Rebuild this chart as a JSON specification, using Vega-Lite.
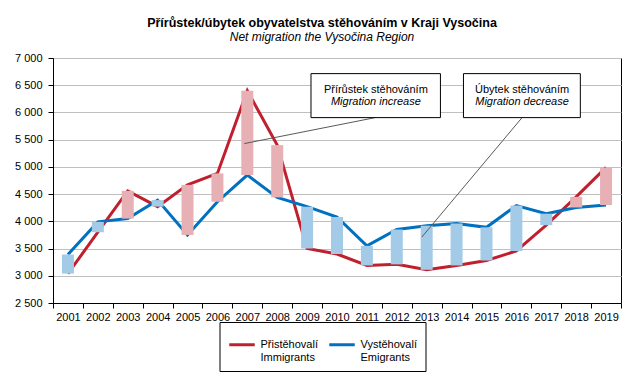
{
  "$schema": "https://vega.github.io/schema/vega-lite/v6.json",
  "width": 568,
  "height": 245,
  "autosize": {"type": "none"},
  "padding": {"left": 53, "top": 58, "right": 22, "bottom": 75},
  "background": "white",
  "title": {
    "text": "Přírůstek/úbytek obyvatelstva stěhováním v Kraji Vysočina",
    "subtitle": "Net migration  the Vysočina Region",
    "font": "Liberation Sans",
    "fontSize": 12.5,
    "fontWeight": "bold",
    "color": "black",
    "subtitleFont": "Liberation Sans",
    "subtitleFontSize": 12,
    "subtitleFontStyle": "italic",
    "subtitleColor": "black",
    "subtitlePadding": 3,
    "anchor": "middle",
    "dx": -15,
    "offset": 9
  },
  "config": {
    "view": {"stroke": "black", "strokeWidth": 1},
    "axis": {
      "labelFont": "Liberation Sans",
      "labelFontSize": 11,
      "labelColor": "black",
      "domainColor": "black",
      "tickColor": "black",
      "labelOverlap": false
    },
    "axisY": {
      "title": null,
      "values": [2500, 3000, 3500, 4000, 4500, 5000, 5500, 6000, 6500, 7000],
      "labelExpr": "replace(format(datum.value, ','), ',', ' ')",
      "labelOverlap": false,
      "labelFlush": false,
      "labelBound": false,
      "gridColor": "#BFBFBF",
      "tickSize": 5,
      "labelPadding": 6
    }
  },
  "datasets": {
    "migration": [
      {"year": 2001, "immigrants": 3040, "emigrants": 3390},
      {"year": 2002, "immigrants": 3800, "emigrants": 3990},
      {"year": 2003, "immigrants": 4560, "emigrants": 4050},
      {"year": 2004, "immigrants": 4270, "emigrants": 4390},
      {"year": 2005, "immigrants": 4670, "emigrants": 3750},
      {"year": 2006, "immigrants": 4880, "emigrants": 4360},
      {"year": 2007, "immigrants": 6400, "emigrants": 4850},
      {"year": 2008, "immigrants": 5400, "emigrants": 4440},
      {"year": 2009, "immigrants": 3500, "emigrants": 4270},
      {"year": 2010, "immigrants": 3400, "emigrants": 4080},
      {"year": 2011, "immigrants": 3190, "emigrants": 3550},
      {"year": 2012, "immigrants": 3210, "emigrants": 3850},
      {"year": 2013, "immigrants": 3110, "emigrants": 3920},
      {"year": 2014, "immigrants": 3190, "emigrants": 3960},
      {"year": 2015, "immigrants": 3280, "emigrants": 3890},
      {"year": 2016, "immigrants": 3455, "emigrants": 4290},
      {"year": 2017, "immigrants": 3930, "emigrants": 4140},
      {"year": 2018, "immigrants": 4450, "emigrants": 4255},
      {"year": 2019, "immigrants": 4990, "emigrants": 4300}
    ],
    "boxes": [
      {"x": 2009.13, "x2": 2013.46, "y": 6713, "y2": 5905},
      {"x": 2014.23, "x2": 2018.14, "y": 6713, "y2": 5905}
    ],
    "leaders": [
      {"x": 2006.9, "x2": 2011.28, "y": 5428, "y2": 5905},
      {"x": 2012.84, "x2": 2016.19, "y": 3712, "y2": 5905}
    ],
    "line1": [
      {"x": 2011.3, "y": 6420, "label": "Přírůstek stěhováním"},
      {"x": 2016.19, "y": 6420, "label": "Úbytek stěhováním"}
    ],
    "line2": [
      {"x": 2011.3, "y": 6192, "label": "Migration increase"},
      {"x": 2016.19, "y": 6192, "label": "Migration decrease"}
    ]
  },
  "layer": [
    {
      "data": {"name": "migration"},
      "layer": [
        {
          "transform": [{"fold": ["immigrants", "emigrants"], "as": ["series", "count"]}],
          "mark": {"type": "line", "strokeWidth": 3},
          "encoding": {
            "x": {
              "field": "year",
              "type": "ordinal",
              "scale": {"type": "band", "paddingInner": 0, "paddingOuter": 0},
              "axis": {
                "title": null,
                "tickBand": "extent",
                "labelAngle": 0,
                "tickSize": 5,
                "labelPadding": 3,
                "grid": false
              }
            },
            "y": {
              "field": "count",
              "type": "quantitative",
              "scale": {"domain": [2500, 7000], "zero": false, "nice": false},
              "title": null
            },
            "color": {
              "field": "series",
              "type": "nominal",
              "scale": {"domain": ["immigrants", "emigrants"], "range": ["#C0202E", "#0070C0"]},
              "legend": {
                "orient": "none",
                "legendX": 166.5,
                "legendY": 264,
                "direction": "horizontal",
                "title": null,
                "strokeColor": "black",
                "fillColor": "white",
                "padding": 8,
                "symbolType": "stroke",
                "symbolStrokeWidth": 3,
                "symbolSize": 650,
                "labelFont": "Liberation Sans",
                "labelFontSize": 11,
                "labelColor": "black",
                "labelLimit": 200,
                "columnPadding": 4,
                "labelOffset": 4,
                "labelExpr": "datum.value == 'immigrants' ? ['Přistěhovalí', 'Immigrants'] : ['Vystěhovalí', 'Emigrants']"
              }
            }
          }
        },
        {
          "mark": {"type": "bar", "width": 12},
          "encoding": {
            "x": {"field": "year", "type": "ordinal", "scale": {"type": "band", "paddingInner": 0, "paddingOuter": 0}},
            "y": {"field": "immigrants", "type": "quantitative", "title": null},
            "y2": {"field": "emigrants"},
            "color": {"condition": {"test": "datum.immigrants > datum.emigrants", "value": "#E6B0B5"}, "value": "#A3CBE8"}
          }
        }
      ]
    },
    {
      "layer": [
        {
          "data": {"name": "leaders"},
          "mark": {"type": "rule", "color": "#595959", "strokeWidth": 1},
          "encoding": {
            "x": {"field": "x", "type": "quantitative", "scale": {"domain": [2000.5, 2019.5], "zero": false, "nice": false}, "axis": null},
            "x2": {"field": "x2"},
            "y": {"field": "y", "type": "quantitative", "title": null},
            "y2": {"field": "y2"}
          }
        },
        {
          "data": {"name": "boxes"},
          "mark": {"type": "rect", "fill": "white", "stroke": "black", "strokeWidth": 1},
          "encoding": {
            "x": {"field": "x", "type": "quantitative", "axis": null},
            "x2": {"field": "x2"},
            "y": {"field": "y", "type": "quantitative", "title": null},
            "y2": {"field": "y2"}
          }
        },
        {
          "data": {"name": "line1"},
          "mark": {"type": "text", "font": "Liberation Sans", "fontSize": 11, "color": "black", "align": "center", "baseline": "middle"},
          "encoding": {
            "x": {"field": "x", "type": "quantitative", "axis": null},
            "y": {"field": "y", "type": "quantitative", "title": null},
            "text": {"field": "label"}
          }
        },
        {
          "data": {"name": "line2"},
          "mark": {"type": "text", "font": "Liberation Sans", "fontSize": 11, "fontStyle": "italic", "color": "black", "align": "center", "baseline": "middle"},
          "encoding": {
            "x": {"field": "x", "type": "quantitative", "axis": null},
            "y": {"field": "y", "type": "quantitative", "title": null},
            "text": {"field": "label"}
          }
        }
      ]
    }
  ],
  "resolve": {"scale": {"x": "independent"}}
}
